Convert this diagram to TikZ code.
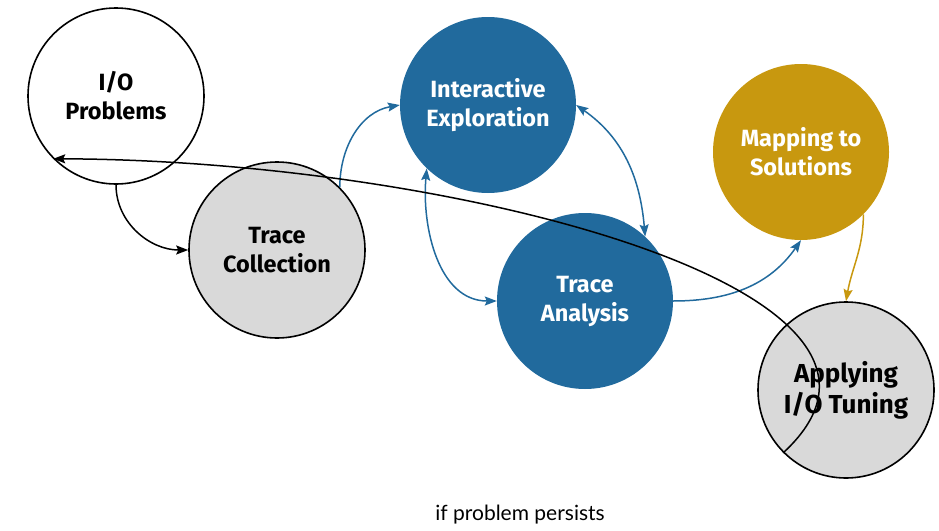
\documentclass[tikz,border=0pt]{standalone}
\usepackage{fontspec}
\setsansfont{Fira Sans}
\setmainfont{Lato}
\usetikzlibrary{arrows.meta}
\definecolor{stepblue}{RGB}{33,106,157}
\definecolor{stepgold}{RGB}{200,152,15}
\definecolor{stepgray}{RGB}{217,217,217}

\begin{document}
\begin{tikzpicture}[x=1pt,y=1pt,
    phase/.style={circle,minimum size=176pt,inner sep=0pt,align=center,
      font=\sffamily\bfseries\fontsize{23.5}{29}\selectfont},
    outlined/.style={phase,draw=black,line width=1.6pt},
    filled/.style={phase,text=white},
    link/.style={line width=1.5pt,-{Stealth[length=12pt,width=9pt,inset=2pt]}},
    twoway/.style={link,{Stealth[length=12pt,width=9pt,inset=2pt]}-{Stealth[length=12pt,width=9pt,inset=2pt]}}]
      \useasboundingbox (0,0) rectangle (939,-530) ;
      % the six phases
      \node[outlined,fill=white] (io) at (116,-96) {I/O\\Problems} ;
      \node[outlined,fill=stepgray] (tc) at (277,-250) {Trace\\Collection} ;
      \node[filled,fill=stepblue] (ie) at (488,-105) {Interactive\\Exploration} ;
      \node[filled,fill=stepblue] (ta) at (585,-301) {Trace\\Analysis} ;
      \node[filled,fill=stepgold] (ms) at (801,-152) {Mapping to\\Solutions} ;
      \node[outlined,fill=stepgray,%
        font=\sffamily\bfseries\fontsize{26}{31}\selectfont] (ap) at (846,-390) {Applying\\I/O Tuning} ;
      % connectors
      \draw[link] (io.south) to[out=-90,in=180] (tc.west) ;
      \draw[link,stepblue] (tc.45) to[out=90,in=190] (ie.west) ;
      \draw[twoway,stepblue] (ie.226) to[out=-95,in=180] (ta.west) ;
      \draw[twoway,stepblue] (ie.east) to[out=-35,in=95] (ta.47) ;
      \draw[link,stepblue] (ta.east) to[out=0,in=-125] (ms.south) ;
      \draw[link,stepgold] (ms.-45) to[out=-90,in=80] (ap.north) ;
      % feedback loop
      \draw[link] (ap.225) .. controls (960,-290) and (450,-160) .. (io.225) ;
      \node[font=\rmfamily\fontsize{21}{24}\selectfont] (loop) at (520,-515) {if problem persists} ;
    \end{tikzpicture}
\end{document}
